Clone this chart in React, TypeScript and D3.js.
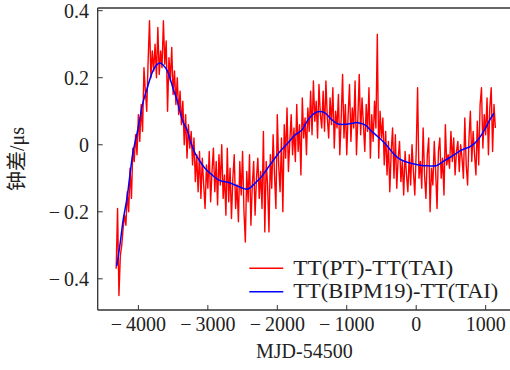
import React from "react";
import * as d3 from "d3";

// Red series: TT(PT)-TT(TAI), sampled every 20 days from MJD-54500 = -4320
const redStart = -4320;
const redStep = 20;
const redValues: number[] = [
  -0.37, -0.19, -0.45, -0.33, -0.30, -0.25, -0.21, -0.24, -0.14, -0.20,
  -0.07, -0.16, -0.01, -0.05, 0.03, -0.03, 0.09, 0.01, 0.12, 0.04,
  0.23, 0.16, 0.10, 0.25, 0.37, 0.20, 0.28, 0.22, 0.30, 0.20,
  0.35, 0.21, 0.28, 0.23, 0.37, 0.24, 0.31, 0.10, 0.26, 0.19,
  0.29, 0.15, 0.22, 0.12, 0.20, 0.09, 0.16, 0.06, 0.13, 0.00,
  0.09, -0.04, 0.06, -0.01, 0.04, -0.06, 0.02, -0.11, -0.03, -0.14,
  -0.02, -0.16, -0.04, -0.12, -0.19, -0.06, -0.13, -0.02, -0.17, -0.08,
  -0.01, -0.14, -0.05, -0.18, -0.03, -0.12, 0.00, -0.16, -0.09, -0.21,
  -0.01, -0.17, -0.07, -0.22, -0.10, -0.03, -0.19, -0.12, -0.23, -0.05,
  -0.15, -0.02, -0.20, -0.29, -0.08, -0.17, -0.03, -0.24, -0.12, -0.05,
  -0.21, -0.10, -0.04, -0.16, -0.08, -0.19, 0.04, -0.26, -0.05, -0.12,
  -0.26, -0.03, -0.13, 0.03, -0.09, -0.19, 0.09, -0.06, -0.14, 0.02,
  -0.20, 0.06, -0.04, 0.11, -0.08, 0.01, 0.09, -0.03, 0.05, -0.05,
  0.12, -0.02, 0.06, -0.09, 0.14, 0.02, 0.08, -0.03, 0.11, 0.04,
  0.16, 0.03, 0.19, 0.07, 0.13, 0.02, 0.18, 0.09, 0.05, 0.16,
  0.04, 0.19, 0.08, 0.02, 0.14, 0.06, 0.17, -0.01, 0.10, 0.05,
  0.15, -0.03, 0.08, 0.21, 0.02, 0.12, -0.03, 0.09, 0.18, 0.01,
  0.11, 0.05, 0.19, -0.03, 0.08, 0.21, 0.03, 0.14, 0.06, -0.02,
  0.12, 0.04, 0.17, -0.04, 0.09, 0.01, 0.13, 0.05, 0.33, -0.04,
  0.10, 0.02, 0.08, -0.06, 0.04, -0.09, 0.01, -0.14, -0.02, 0.05,
  -0.10, 0.03, -0.13, -0.04, 0.01, -0.11, -0.05, -0.15, -0.02, -0.09,
  -0.14, -0.03, -0.12, 0.00, -0.08, -0.15, -0.02, 0.17, -0.10, -0.05,
  -0.13, 0.05, -0.09, -0.16, -0.03, 0.02, -0.20, -0.07, -0.12, 0.01,
  -0.08, -0.19, -0.02, 0.02, -0.10, -0.04, -0.15, 0.06, -0.06, -0.03,
  -0.07, 0.04, -0.05, 0.02, -0.09, -0.02, 0.01, -0.08, 0.00, -0.04,
  -0.10, 0.08, -0.06, -0.12, 0.02, 0.10, -0.05, 0.04, -0.03, -0.09,
  0.07, -0.06, 0.12, 0.17, -0.01, 0.09, 0.03, 0.14, -0.03, 0.11,
  0.17, -0.02, 0.12, 0.05,
];

// Blue series: TT(BIPM19)-TT(TAI)
const blueX: number[] = [
  -4311, -4263, -4220, -4162, -4119, -4076, -4018, -3975, -3932, -3874,
  -3831, -3788, -3730, -3688, -3645, -3587, -3544, -3501, -3443, -3400,
  -3357, -3300, -3257, -3185, -3113, -3041, -2940, -2825, -2709, -2609,
  -2494, -2422, -2321, -2220, -2105, -1961, -1860, -1745, -1645, -1558,
  -1458, -1386, -1314, -1213, -1127, -1026, -925, -839, -738, -637,
  -551, -450, -350, -263, -163, -62, 53, 168, 298, 384,
  485, 586, 672, 772, 844, 916, 988, 1060, 1118,
];
const blueY: number[] = [
  -0.362, -0.294, -0.225, -0.156, -0.085, -0.02, 0.035, 0.083, 0.128, 0.168,
  0.198, 0.222, 0.24, 0.244, 0.238, 0.222, 0.198, 0.168, 0.133, 0.098,
  0.068, 0.045, 0.014, -0.025, -0.05, -0.07, -0.09, -0.107, -0.112, -0.12,
  -0.13, -0.132, -0.115, -0.093, -0.06, -0.02, 0.002, 0.029, 0.044, 0.074,
  0.095, 0.099, 0.095, 0.074, 0.062, 0.061, 0.064, 0.066, 0.059, 0.039,
  0.024, 0.004, -0.021, -0.039, -0.05, -0.056, -0.061, -0.063, -0.062, -0.05,
  -0.038, -0.024, -0.014, -0.006, 0.005, 0.022, 0.046, 0.074, 0.094,
];

const xTicks: number[] = [-4000, -3000, -2000, -1000, 0, 1000];
const yTicks: number[] = [-0.4, -0.2, 0, 0.2, 0.4];
const legendLabels: string[] = ["TT(PT)-TT(TAI)", "TT(BIPM19)-TT(TAI)"];
const legendColors: string[] = ["#ff0000", "#0000ff"];
const xLabel = "MJD-54500";
const yLabel = "钟差/μs";

const W = 510;
const H = 370;
const left = 97.7;
const right = 511;
const top = 8;
const bottom = 310;

const fmt = (v: number, dec: number) => {
  if (v === 0) return "0";
  const s = Math.abs(v).toFixed(dec);
  return v < 0 ? "\u2212\u2009" + s : s;
};

const font = "'Liberation Serif', serif";

export default function App() {
  const x = d3.scaleLinear().domain([-4586, 1365]).range([left, right]);
  const y = d3.scaleLinear().domain([-0.493, 0.408]).range([bottom, top]);

  const redData: [number, number][] = redValues.map((v, i) => [redStart + i * redStep, v]);
  const blueData: [number, number][] = blueX.map((v, i) => [v, blueY[i]]);

  const lineGen = d3
    .line<[number, number]>()
    .x((d) => x(d[0]))
    .y((d) => y(d[1]));
  const smoothGen = d3
    .line<[number, number]>()
    .x((d) => x(d[0]))
    .y((d) => y(d[1]))
    .curve(d3.curveCatmullRom.alpha(0.5));

  const spine = "#333";

  return (
    <svg width={W} height={H} style={{ position: "absolute", left: 0, top: 0, background: "#fff" }}>
      <defs>
        <clipPath id="plotclip">
          <rect x={left} y={top} width={right - left} height={bottom - top} />
        </clipPath>
      </defs>
      <g clipPath="url(#plotclip)">
        <path d={lineGen(redData) || ""} fill="none" stroke="#ff0000" strokeWidth={1.4} strokeLinejoin="round" />
        <path d={smoothGen(blueData) || ""} fill="none" stroke="#0000ff" strokeWidth={1.5} />
      </g>

      <line x1={left} y1={top} x2={left} y2={bottom} stroke={spine} strokeWidth={1.3} />
      <line x1={left} y1={bottom} x2={right} y2={bottom} stroke={spine} strokeWidth={1.3} />
      <line x1={left} y1={top} x2={right} y2={top} stroke={spine} strokeWidth={1.3} />
      <line x1={right} y1={top} x2={right} y2={bottom} stroke={spine} strokeWidth={1.3} />

      {yTicks.map((t) => (
        <g key={"y" + t}>
          <line x1={left} x2={left + 5} y1={y(t)} y2={y(t)} stroke={spine} strokeWidth={1} />
          <text x={89} y={y(t)} dy="0.35em" textAnchor="end" fontSize={20} fill="#222" fontFamily={font}>
            {fmt(t, 1)}
          </text>
        </g>
      ))}

      {xTicks.map((t) => (
        <g key={"x" + t}>
          <line x1={x(t)} x2={x(t)} y1={bottom} y2={bottom - 5} stroke={spine} strokeWidth={1} />
          <text x={x(t)} y={331} textAnchor="middle" fontSize={20} fill="#222" fontFamily={font}>
            {fmt(t, 0)}
          </text>
        </g>
      ))}

      <text x={(left + right) / 2} y={358} textAnchor="middle" fontSize={20} fill="#222" fontFamily={font}>
        {xLabel}
      </text>
      <text
        transform={`translate(17, ${(top + bottom) / 2}) rotate(-90)`}
        textAnchor="middle"
        dy="0.35em"
        fontSize={20}
        fill="#222"
        fontFamily="'Liberation Serif', 'Noto Sans CJK SC'"
      >
        {yLabel}
      </text>

      {legendLabels.map((lab, i) => {
        const ly = 268.3 + i * 23.4;
        return (
          <g key={lab}>
            <line x1={249.3} x2={283.3} y1={ly} y2={ly} stroke={legendColors[i]} strokeWidth={1.5} />
            <text
              x={293.3}
              y={ly}
              dy="0.32em"
              fontSize={20}
              fill="#222"
              fontFamily={font}
              textLength={i === 0 ? 160 : 205}
              lengthAdjust="spacingAndGlyphs"
            >
              {lab}
            </text>
          </g>
        );
      })}
    </svg>
  );
}
